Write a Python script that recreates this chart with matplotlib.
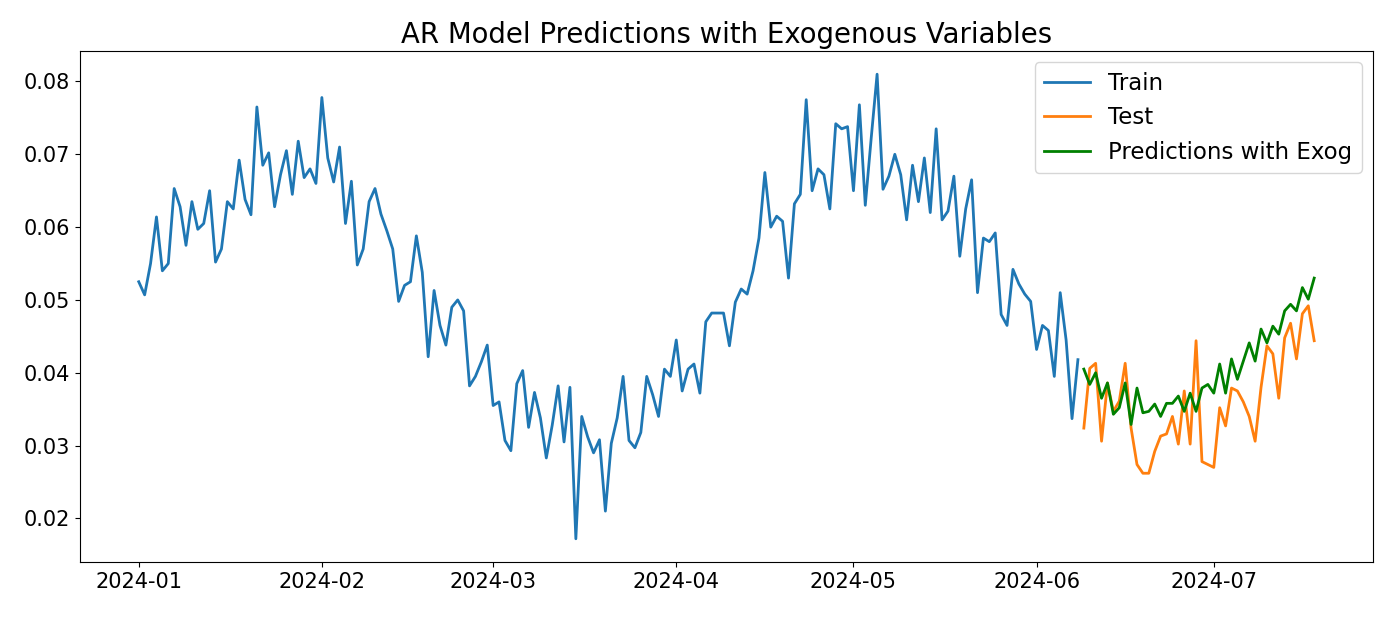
import numpy as np
import pandas as pd
import matplotlib
matplotlib.use("Agg")
import matplotlib.pyplot as plt

# daily series, 80/20 split
train_start = "2024-01-01"
test_start = "2024-06-09"

train_vals = [
    0.0525, 0.0507, 0.0550, 0.0614, 0.0540, 0.0550, 0.0653, 0.0628, 0.0575, 0.0635,
    0.0597, 0.0605, 0.0650, 0.0552, 0.0570, 0.0635, 0.0625, 0.0692, 0.0638, 0.0617,
    0.0765, 0.0685, 0.0702, 0.0628, 0.0672, 0.0705, 0.0645, 0.0718, 0.0668, 0.0680,
    0.0660, 0.0778, 0.0695, 0.0662, 0.0710, 0.0605, 0.0663, 0.0548, 0.0570, 0.0635,
    0.0653, 0.0618, 0.0595, 0.0570, 0.0498, 0.0520, 0.0525, 0.0588, 0.0538, 0.0422,
    0.0513, 0.0465, 0.0438, 0.0490, 0.0500, 0.0485, 0.0382, 0.0395, 0.0415, 0.0438,
    0.0355, 0.0360, 0.0307, 0.0293, 0.0385, 0.0403, 0.0325, 0.0373, 0.0338, 0.0283,
    0.0328, 0.0382, 0.0305, 0.0380, 0.0172, 0.0340, 0.0312, 0.0290, 0.0308, 0.0210,
    0.0303, 0.0338, 0.0395, 0.0307, 0.0297, 0.0318, 0.0395, 0.0370, 0.0340, 0.0405,
    0.0395, 0.0445, 0.0375, 0.0405, 0.0412, 0.0372, 0.0470, 0.0482, 0.0482, 0.0482,
    0.0437, 0.0497, 0.0515, 0.0508, 0.0540, 0.0585, 0.0675, 0.0600, 0.0615, 0.0608,
    0.0530, 0.0632, 0.0645, 0.0775, 0.0650, 0.0680, 0.0672, 0.0625, 0.0742, 0.0735,
    0.0738, 0.0650, 0.0768, 0.0630, 0.0722, 0.0810, 0.0652, 0.0670, 0.0700, 0.0672,
    0.0610, 0.0685, 0.0635, 0.0695, 0.0620, 0.0735, 0.0610, 0.0622, 0.0670, 0.0560,
    0.0625, 0.0665, 0.0510, 0.0585, 0.0580, 0.0592, 0.0480, 0.0465, 0.0542, 0.0522,
    0.0508, 0.0498, 0.0432, 0.0465, 0.0458, 0.0395, 0.0510, 0.0445, 0.0337, 0.0418,
]

test_vals = [
    0.0324, 0.0406, 0.0413, 0.0306, 0.0386, 0.0347, 0.0361, 0.0413, 0.0324, 0.0274,
    0.0262, 0.0262, 0.0292, 0.0313, 0.0316, 0.0340, 0.0302, 0.0375, 0.0302, 0.0444,
    0.0278, 0.0274, 0.0270, 0.0352, 0.0327, 0.0379, 0.0375, 0.0360, 0.0340, 0.0306,
    0.0380, 0.0437, 0.0426, 0.0365, 0.0448, 0.0468, 0.0419, 0.0481, 0.0492, 0.0444,
]

pred_vals = [
    0.0405, 0.0384, 0.0400, 0.0365, 0.0386, 0.0343, 0.0352, 0.0386, 0.0329, 0.0379,
    0.0345, 0.0347, 0.0357, 0.0340, 0.0358, 0.0358, 0.0368, 0.0347, 0.0372, 0.0347,
    0.0379, 0.0384, 0.0372, 0.0412, 0.0372, 0.0419, 0.0391, 0.0416, 0.0441, 0.0416,
    0.0460, 0.0441, 0.0464, 0.0453, 0.0485, 0.0494, 0.0485, 0.0517, 0.0501, 0.0530,
]

train_idx = pd.date_range(train_start, periods=len(train_vals), freq="D")
test_idx = pd.date_range(test_start, periods=len(test_vals), freq="D")

plt.rcParams["font.size"] = 15
plt.rcParams["lines.linewidth"] = 2.0

fig = plt.figure(figsize=(13.86, 6.18), dpi=100)
ax = fig.add_axes([0.0577, 0.0906, 0.9329, 0.8269])
ax.plot(train_idx, train_vals, label="Train")
ax.plot(test_idx, test_vals, label="Test")
ax.plot(test_idx, pred_vals, label="Predictions with Exog", color="green")
ax.set_title("AR Model Predictions with Exogenous Variables", fontsize=19.8)
ax.legend(loc="upper right", fontsize=16.5)

fig.savefig("out.png")
